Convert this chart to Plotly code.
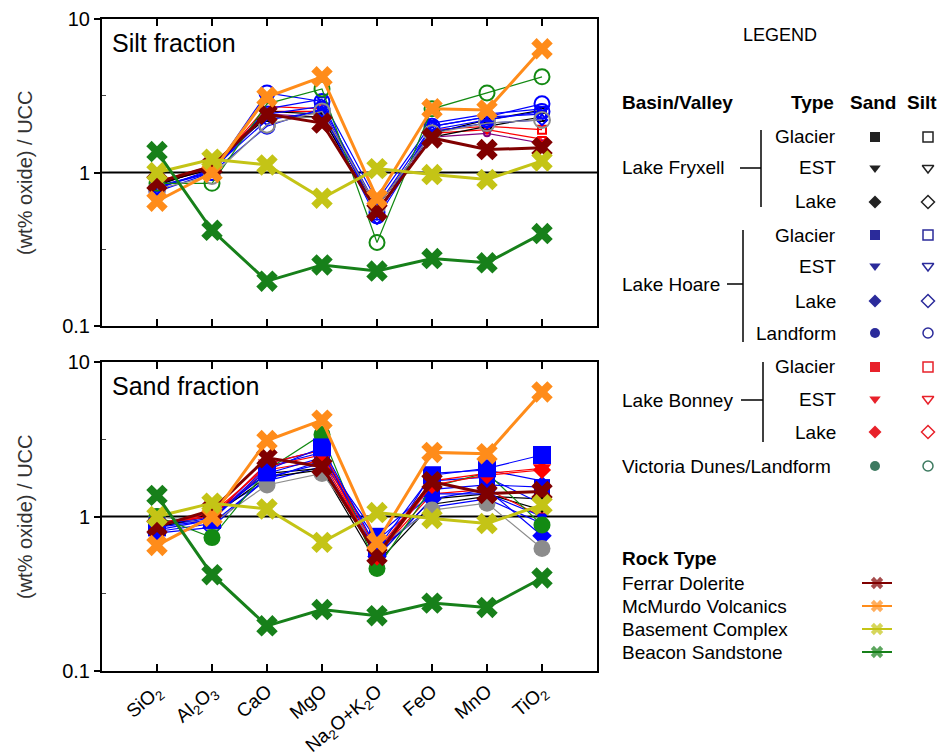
"""Silt / sand oxide ratios normalised to UCC, with rock-type references"""

import plotly.graph_objects as go

FONT = "Liberation Sans, Arial, sans-serif"

# ---------- data ----------
oxides = ["SiO<sub>2</sub>", "Al<sub>2</sub>O<sub>3</sub>", "CaO", "MgO",
          "Na<sub>2</sub>O+K<sub>2</sub>O", "FeO", "MnO", "TiO<sub>2</sub>"]

# rock-type reference compositions (same in both panels)
ferrar_dolerite = [0.86, 1.10, 2.40, 2.10, 0.56, 1.68, 1.41, 1.45]
mcmurdo_volcanics = [0.65, 1.00, 3.10, 4.20, 0.68, 2.60, 2.55, 6.40]
basement_complex = [1.00, 1.22, 1.12, 0.68, 1.06, 0.97, 0.90, 1.19]
beacon_sandstone = [1.37, 0.42, 0.196, 0.25, 0.228, 0.275, 0.258, 0.40]

# silt samples
silt_victoria = [0.85, 0.85, 2.80, 3.50, 0.35, 2.60, 3.30, 4.20]
silt_gray = [0.78, 0.95, 2.05, 2.50, 0.60, 1.80, 2.10, 2.20]
silt_hoare_landform = [0.80, 1.00, 3.30, 2.90, 0.52, 2.00, 2.30, 2.80]
silt_hoare_landform2 = [0.75, 1.00, 2.00, 2.60, 0.55, 1.90, 2.20, 2.50]
silt_hoare_glacier = [0.80, 1.02, 2.40, 2.70, 0.60, 2.00, 2.30, 2.40]
silt_hoare_est = [0.82, 1.00, 2.60, 3.00, 0.65, 2.10, 2.40, 2.60]
silt_hoare_lake = [0.78, 1.05, 2.20, 2.50, 0.50, 1.85, 2.10, 2.20]
silt_fryxell_est = [0.85, 1.05, 2.50, 2.40, 0.60, 1.80, 2.20, 2.55]
silt_fryxell_glacier = [0.82, 1.10, 2.30, 2.30, 0.55, 1.70, 2.00, 2.30]
silt_bonney_glacier = [0.85, 1.05, 2.70, 2.60, 0.55, 1.90, 2.00, 1.90]
silt_bonney_est = [0.88, 1.10, 2.50, 2.50, 0.60, 1.80, 1.90, 1.65]
silt_other = [0.83, 1.08, 2.40, 2.30, 0.55, 1.70, 1.80, 1.55]

# sand samples
sand_hoare_glacier = [0.85, 0.95, 2.00, 2.80, 0.62, 1.85, 2.05, 2.50]
sand_bonney_est = [0.90, 1.00, 2.20, 2.70, 0.60, 1.70, 1.90, 2.05]
sand_bonney_lake = [0.88, 1.05, 2.10, 2.50, 0.55, 1.60, 1.85, 2.00]
sand_hoare_glacier2 = [0.88, 1.00, 1.90, 2.40, 0.75, 1.50, 1.60, 1.55]
sand_bonney_glacier = [0.92, 1.00, 2.00, 2.30, 0.57, 1.40, 1.50, 1.00]
sand_fryxell_glacier = [0.90, 1.00, 1.80, 2.00, 0.50, 1.20, 1.35, 1.30]
sand_fryxell_est = [0.85, 1.02, 1.90, 2.05, 0.55, 1.30, 1.40, 1.10]
sand_hoare_est = [0.80, 0.90, 1.75, 2.30, 0.70, 1.40, 1.40, 1.00]
sand_hoare_est2 = [0.90, 1.05, 1.70, 2.10, 0.60, 1.15, 1.30, 0.90]
sand_hoare_landform = [0.82, 0.95, 2.10, 2.60, 0.58, 1.70, 1.80, 1.20]
sand_hoare_lake = [0.78, 0.85, 1.80, 2.20, 0.55, 1.30, 1.50, 0.75]
sand_hoare_lake2 = [0.86, 0.98, 2.20, 2.70, 0.52, 1.90, 2.00, 1.70]
sand_victoria = [1.00, 0.73, 2.00, 3.40, 0.46, 1.55, 1.92, 0.88]
sand_gray = [1.00, 0.90, 1.60, 1.90, 0.64, 1.10, 1.22, 0.62]

BLUE, RED, BLACK, GREEN, GRAY, PURPLE = "#0000ff", "#ff0000", "#000000", "#138a13", "#8c8c8c", "#800080"

# (values, colour, symbol, marker size)
silt_series = [
    (silt_other, PURPLE, "circle-open", 6),
    (silt_bonney_est, RED, "triangle-down-open", 8),
    (silt_bonney_glacier, RED, "square-open", 8),
    (silt_fryxell_glacier, BLACK, "square-open", 8),
    (silt_fryxell_est, BLACK, "triangle-down-open", 8),
    (silt_hoare_lake, BLUE, "diamond-open", 8),
    (silt_hoare_est, BLUE, "triangle-down-open", 8),
    (silt_hoare_glacier, BLUE, "square-open", 8),
    (silt_hoare_landform2, BLUE, "circle-open", 15),
    (silt_hoare_landform, BLUE, "circle-open", 15),
    (silt_victoria, GREEN, "circle-open", 15),
    (silt_gray, GRAY, "circle-open", 16),
]

sand_series = [
    (sand_hoare_lake2, BLUE, "diamond", 8),
    (sand_hoare_est2, BLUE, "triangle-down", 8),
    (sand_fryxell_est, BLACK, "triangle-down", 8),
    (sand_fryxell_glacier, BLACK, "square", 8),
    (sand_bonney_glacier, RED, "square", 8),
    (sand_hoare_landform, BLUE, "circle", 10),
    (sand_hoare_est, BLUE, "triangle-down", 12),
    (sand_hoare_lake, BLUE, "diamond", 15),
    (sand_gray, GRAY, "circle", 17),
    (sand_victoria, GREEN, "circle", 17),
    (sand_hoare_glacier2, BLUE, "square", 16),
    (sand_bonney_lake, RED, "diamond", 14),
    (sand_bonney_est, RED, "triangle-down", 16),
    (sand_hoare_glacier, BLUE, "square", 18),
]

rock_series = [
    ("Ferrar Dolerite", ferrar_dolerite, "#800000"),
    ("McMurdo Volcanics", mcmurdo_volcanics, "#ff8c1a"),
    ("Basement Complex", basement_complex, "#c4c416"),
    ("Beacon Sandstone", beacon_sandstone, "#17801a"),
]

xs = list(range(len(oxides)))

# page pixels -> paper coords (the page body adds an 8 px margin)
W, H = 945, 755
OFF = 8


def px(x):
    return (x - OFF) / W


def py(y):
    return 1 - (y - OFF) / H


fig = go.Figure()


def add_panel(series, xa, ya):
    # y = 1 reference line
    fig.add_trace(go.Scatter(x=[-1, len(oxides)], y=[1, 1], mode="lines",
                             line=dict(color="black", width=2),
                             xaxis=xa, yaxis=ya, showlegend=False, hoverinfo="skip"))
    for vals, col, sym, size in series:
        fig.add_trace(go.Scatter(
            x=xs, y=vals, mode="lines+markers", xaxis=xa, yaxis=ya, showlegend=False,
            line=dict(color=col, width=1.2),
            marker=dict(color=col, symbol=sym, size=size,
                        line=dict(color=col, width=2 if "open" in sym else 0))))
    for name, vals, col in rock_series:
        fig.add_trace(go.Scatter(
            x=xs, y=vals, mode="lines+markers", name=name, xaxis=xa, yaxis=ya,
            showlegend=False, line=dict(color=col, width=3),
            marker=dict(color=col, symbol="x", size=19, line=dict(width=0))))


add_panel(silt_series, "x", "y")
add_panel(sand_series, "x2", "y2")

# ---------- custom legend (right side), positions in page pixels ----------
basin_rows = [
    ("Glacier", 137, "#222222", "square"),
    ("EST", 168, "#222222", "triangle-down"),
    ("Lake", 202, "#222222", "diamond"),
    ("Glacier", 235, "#2b2b9b", "square"),
    ("EST", 266, "#2b2b9b", "triangle-down"),
    ("Lake", 301, "#2b2b9b", "diamond"),
    ("Landform", 333, "#2b2b9b", "circle"),
    ("Glacier", 367, "#e8212a", "square"),
    ("EST", 399, "#e8212a", "triangle-down"),
    ("Lake", 432, "#e8212a", "diamond"),
    ("", 466, "#3d7a60", "circle"),
]
rock_rows_y = [583, 606, 629, 652]

for label, yy, col, sym in basin_rows:
    fig.add_trace(go.Scatter(x=[875], y=[yy], mode="markers", xaxis="x3", yaxis="y3",
                             showlegend=False, hoverinfo="skip",
                             marker=dict(symbol=sym, size=10, color=col, line=dict(width=0))))
    fig.add_trace(go.Scatter(x=[928], y=[yy], mode="markers", xaxis="x3", yaxis="y3",
                             showlegend=False, hoverinfo="skip",
                             marker=dict(symbol=sym + "-open", size=10, color=col,
                                         line=dict(color=col, width=1.5))))
for (name, vals, col), yy in zip(rock_series, rock_rows_y):
    fig.add_trace(go.Scatter(x=[862, 877, 892], y=[yy, yy, yy], mode="lines+markers",
                             xaxis="x3", yaxis="y3", showlegend=False, hoverinfo="skip",
                             line=dict(color=col, width=2),
                             marker=dict(symbol=["line-ew", "x", "line-ew"], size=[0, 11, 0],
                                         color=col, line=dict(width=0))))

annotations = []


def txt(x, y, text, size=19, anchor="left", bold=False):
    annotations.append(dict(
        x=px(x), y=py(y), xref="paper", yref="paper", text=f"<b>{text}</b>" if bold else text,
        showarrow=False, xanchor=anchor, yanchor="middle",
        font=dict(family=FONT, size=size, color="black")))


txt(780, 35, "LEGEND", size=18, anchor="center")
txt(620, 102, "Basin/Valley", bold=True)
txt(836, 102, "Type", anchor="right", bold=True)
txt(873, 102, "Sand", anchor="center", bold=True)
txt(922, 102, "Silt", anchor="center", bold=True)
for label, yy, col, sym in basin_rows:
    if label:
        txt(838, yy, label, anchor="right")
txt(620, 168, "Lake Fryxell")
txt(620, 284, "Lake Hoare")
txt(620, 400, "Lake Bonney")
txt(620, 466, "Victoria Dunes/Landform")
txt(620, 558, "Rock Type", bold=True)
for (name, vals, col), yy in zip(rock_series, rock_rows_y):
    txt(620, yy, name)

# panel labels and y titles
txt(110, 43, "Silt fraction", size=25)
txt(110, 386, "Sand fraction", size=25)
for yc in (173, 517):
    annotations.append(dict(x=px(25), y=py(yc), xref="paper", yref="paper",
                            xanchor="center", yanchor="middle",
                            text="(wt% oxide) / UCC", textangle=-90, showarrow=False,
                            font=dict(family=FONT, size=20, color="#333333")))

# brackets of the basin legend
shapes = []
for xv, y0, y1, xd0, yd in [(761, 130, 207, 740, 168), (743, 230, 342, 727, 284),
                            (763, 362, 442, 741, 400)]:
    shapes.append(dict(type="line", xref="paper", yref="paper", x0=px(xv), x1=px(xv),
                       y0=py(y0), y1=py(y1), line=dict(color="black", width=1.5)))
    shapes.append(dict(type="line", xref="paper", yref="paper", x0=px(xd0), x1=px(xv),
                       y0=py(yd), y1=py(yd), line=dict(color="black", width=1.5)))

xaxis_common = dict(domain=[px(102), px(597)], range=[-1, len(oxides)], tickvals=xs,
                    ticktext=oxides, ticks="inside", ticklen=7, tickwidth=1.5, tickcolor="black",
                    showline=True, linecolor="black", linewidth=2, mirror="ticks",
                    showgrid=False, zeroline=False, automargin=False)
yaxis_common = dict(type="log", range=[-1, 1], tickvals=[0.1, 1, 10], ticktext=["0.1", "1", "10"],
                    ticks="outside", ticklen=6, tickwidth=1.5, tickcolor="black",
                    minor=dict(tickvals=[10 ** -0.5, 10 ** 0.5], ticks="inside", ticklen=4,
                               tickwidth=1, tickcolor="#444444"),
                    showline=True, linecolor="black", linewidth=2, mirror=True,
                    showgrid=False, zeroline=False, automargin=False,
                    tickfont=dict(family=FONT, size=20, color="black"))

fig.update_layout(
    width=W, height=H, margin=dict(l=0, r=0, t=0, b=0, autoexpand=False),
    paper_bgcolor="white", plot_bgcolor="rgba(0,0,0,0)",
    showlegend=False,
    xaxis=dict(xaxis_common, anchor="y", showticklabels=False),
    yaxis=dict(yaxis_common, domain=[py(326), py(19)], anchor="x"),
    xaxis2=dict(xaxis_common, anchor="y2", tickangle=-40,
                tickfont=dict(family=FONT, size=19, color="black")),
    yaxis2=dict(yaxis_common, domain=[py(671), py(362)], anchor="x2"),
    xaxis3=dict(domain=[0, 1], range=[OFF, W + OFF], visible=False, anchor="y3",
                fixedrange=True, automargin=False),
    yaxis3=dict(domain=[0, 1], range=[H + OFF, OFF], visible=False, anchor="x3",
                fixedrange=True, automargin=False),
    annotations=annotations,
    shapes=shapes,
)

fig.write_html("out.html")
